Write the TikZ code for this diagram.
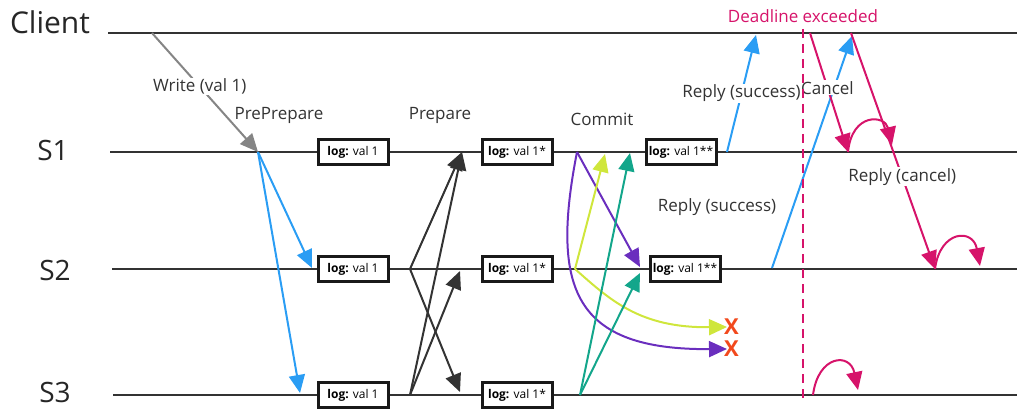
\documentclass[tikz,border=0pt]{standalone}
\usepackage{fontspec}
\setmainfont{Open Sans}
\usetikzlibrary{arrows.meta, positioning}

\definecolor{lanegray}{HTML}{333333}
\definecolor{writegray}{HTML}{858585}
\definecolor{msgblue}{HTML}{2A9DF4}
\definecolor{deadline}{HTML}{D6136A}
\definecolor{commitpurple}{HTML}{6A2EBE}
\definecolor{commitlime}{HTML}{CFE63C}
\definecolor{committeal}{HTML}{13A68B}
\definecolor{dropred}{HTML}{F2491D}

\begin{document}
\begin{tikzpicture}[
    x=1pt, y=-1pt,
    lane/.style={line width=2.6pt, draw=lanegray},
    lanename/.style={font=\fontsize{28}{30}\selectfont, text=black!85, inner sep=0pt},
    logbox/.style={rectangle, draw=black!90, line width=3pt, fill=white, font=\fontsize{12}{13}\selectfont, inner xsep=2pt, minimum width=70pt, minimum height=25pt, text height=9pt, text depth=2.5pt},
    phase/.style={font=\fontsize{17}{20}\selectfont, text=black!80},
    msglabel/.style={phase, fill=white, inner sep=1pt},
    msg/.style={line width=2pt, -{Triangle[length=18pt,width=16pt]}},
    turn/.style={msg, draw=deadline},
    drop/.style={font=\bfseries\fontsize{22}{22}\selectfont, text=dropred, inner sep=0pt}
]
\useasboundingbox (0,0) rectangle (1017,409);

% Lanes
\node[lanename, font=\fontsize{30}{32}\selectfont] (client) at (50,22) {Client};
\node[lanename] (s1) at (53,150) {S1};
\node[lanename] (s2) at (55,270) {S2};
\node[lanename] (s3) at (55,392) {S3};

\coordinate (client-a) at (108,33);  \coordinate (client-b) at (1017,33);
\coordinate (s1-a) at (110,152);     \coordinate (s1-b) at (1017,152);
\coordinate (s2-a) at (112,269);     \coordinate (s2-b) at (1017,269);
\coordinate (s3-a) at (113,395);     \coordinate (s3-b) at (1017,395);

\draw[lane] (client-a) -- (client-b);
\draw[lane] (s1-a) -- (s1-b);
\draw[lane] (s2-a) -- (s2-b);
\draw[lane] (s3-a) -- (s3-b);

% Log entries
\node[logbox] (log1a) at (353,152) {\textbf{log:} val 1};
\node[logbox] (log2a) at (353,269) {\textbf{log:} val 1};
\node[logbox] (log3a) at (353,395) {\textbf{log:} val 1};
\node[logbox] (log1b) at (517,152) {\textbf{log:} val 1*};
\node[logbox] (log2b) at (517,269) {\textbf{log:} val 1*};
\node[logbox] (log3b) at (517,395) {\textbf{log:} val 1*};
\node[logbox] (log1c) at (681,152) {\textbf{log:} val 1**};
\node[logbox] (log2c) at (685,269) {\textbf{log:} val 1**};

% Phase labels
\node[phase] (preprepare) at (279,115) {PrePrepare};
\node[phase] (prepare) at (440,115) {Prepare};
\node[phase] (commit) at (602,119) {Commit};

% Write and PrePrepare
\coordinate (write) at (152,33);
\coordinate (pp1) at (258,152);
\coordinate (pp2) at (312,268);
\coordinate (pp3) at (300,393);
\draw[msg, writegray] (write) -- node[msglabel, pos=0.45] (writelabel) {Write (val 1)} (pp1);
\draw[msg, msgblue] (pp1) -- (pp2);
\draw[msg, msgblue] (pp1) -- (pp3);

% Prepare
\coordinate (p2) at (410,269);
\coordinate (p3) at (410,395);
\coordinate (p1-in) at (462,152);
\coordinate (p2-in) at (460,271);
\coordinate (p3-in) at (460,392);
\draw[msg, lanegray] (p2) -- (p1-in);
\draw[msg, lanegray] (p2) -- (p3-in);
\draw[msg, lanegray] (p3) -- (p1-in);
\draw[msg, lanegray] (p3) -- (p2-in);

% Commit
\coordinate (c1) at (577,152);
\coordinate (c2) at (575,269);
\coordinate (c3) at (580,395);
\coordinate (lost-lime) at (727,327);
\coordinate (lost-purple) at (727,349);
\draw[msg, commitpurple] (c1) -- (640,267);
\draw[msg, commitpurple] (c1) .. controls (550,290) and (575,350) .. (lost-purple);
\draw[msg, commitlime] (c2) -- (605,154);
\draw[msg, commitlime] (c2) .. controls (610,300) and (640,328) .. (lost-lime);
\draw[msg, committeal] (c3) -- (630,153);
\draw[msg, committeal] (c3) -- (640,273);
\node[drop, right=-3pt of lost-lime] (x-lime) {X};
\node[drop, right=-3pt of lost-purple] (x-purple) {X};

% Replies and cancel
\coordinate (r1) at (727,152);
\coordinate (r1-in) at (756,35);
\draw[msg, msgblue] (r1) -- node[msglabel, pos=0.5] (reply1) {Reply (success)} (r1-in);

\coordinate (r2) at (772,268);
\coordinate (r2-in) at (852,36);
\draw[msg, msgblue] (r2) -- (r2-in);
\node[phase] (reply2) at (717,207) {Reply (success)};

\coordinate (cancel) at (810,33);
\coordinate (cancel-in) at (848,152);
\draw[turn] (cancel) -- node[msglabel, pos=0.46] (cancellabel) {Cancel} (cancel-in);
\draw[turn] (cancel-in) .. controls (852,112) and (885,115) .. (892,145);

\coordinate (rc) at (851,33);
\coordinate (rc-in) at (935,269);
\draw[turn] (rc) -- node[msglabel, pos=0.61] (replycancel) {Reply (cancel)} (rc-in);
\draw[turn] (rc-in) .. controls (940,230) and (973,228) .. (980,266);

\coordinate (s3-turn) at (813,395);
\draw[turn] (s3-turn) .. controls (818,355) and (850,352) .. (858,390);

% Deadline
\node[phase, text=deadline] (deadlinelabel) at (803,16) {Deadline exceeded};
\coordinate (dl-a) at (803,29);
\coordinate (dl-b) at (803,400);
\draw[deadline, line width=2.2pt, dash pattern=on 9pt off 6pt] (dl-a) -- (dl-b);

\end{tikzpicture}
\end{document}
